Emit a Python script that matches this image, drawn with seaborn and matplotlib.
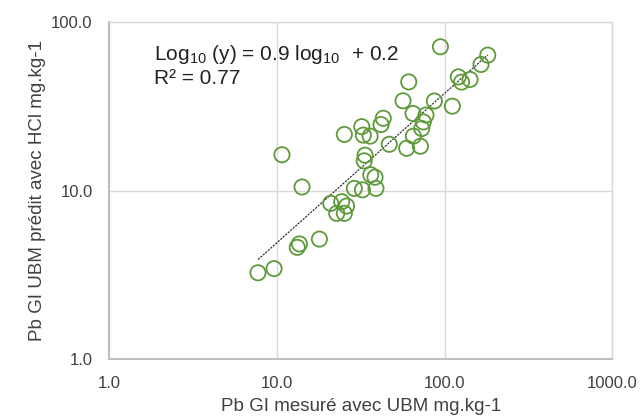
import numpy as np
import pandas as pd
import matplotlib
matplotlib.use("Agg")
import matplotlib.pyplot as plt
import seaborn as sns

# Pb GI measured with UBM (mg/kg) vs Pb GI predicted with HCl (mg/kg)
pb_ubm_mesure = [7.7, 9.6, 10.7, 14.1, 13.2, 13.6, 17.9, 20.9, 24.3, 26.0,
                 22.7, 25.2, 28.9, 32.3, 36.2, 38.4, 38.9, 33.5, 33.1, 25.2,
                 32.0, 32.7, 35.9, 43.0, 41.7, 46.7, 59.3, 71.6, 65.0, 74.5,
                 72.9, 77.3, 64.7, 56.4, 61.0, 86.7, 111.0, 120.5, 126.0, 141.5,
                 164.5, 180.5, 94.2]
pb_hcl_predit = [3.26, 3.45, 16.3, 10.5, 4.61, 4.83, 5.16, 8.40, 8.59, 8.10,
                 7.33, 7.33, 10.3, 10.1, 12.4, 12.0, 10.3, 16.2, 15.0, 21.5,
                 23.9, 21.3, 21.0, 26.8, 24.6, 18.8, 17.8, 18.3, 21.0, 25.5,
                 23.3, 28.0, 28.6, 34.0, 44.0, 33.9, 31.6, 47.1, 43.9, 45.5,
                 55.8, 63.4, 71.0]

x_ticks = [1, 10, 100, 1000]
y_ticks = [1, 10, 100]
x_tick_labels = ["1.0", "10.0", "100.0", "1000.0"]
y_tick_labels = ["1.0", "10.0", "100.0"]

equation_text = r"Log$_{10}$ (y) = 0.9 log$_{10}$  + 0.2"
r2_text = "R² = 0.77"
x_label = "Pb GI mesuré avec UBM mg.kg-1"
y_label = "Pb GI UBM prédit avec HCl mg.kg-1"

df = pd.DataFrame({"ubm": pb_ubm_mesure, "hcl": pb_hcl_predit})

sns.set_theme(style="white")
plt.rcParams["font.family"] = ["Liberation Sans", "DejaVu Sans"]
plt.rcParams["mathtext.fontset"] = "custom"
plt.rcParams["mathtext.rm"] = "Liberation Sans"
plt.rcParams["mathtext.it"] = "Liberation Sans"
plt.rcParams["mathtext.default"] = "rm"

text_color = "#404040"
green = "#5E9A3A"

fig = plt.figure(figsize=(6.41, 4.17), dpi=100)
ax = fig.add_axes([0.1705, 0.138, 0.785, 0.810])

ax.set_xscale("log")
ax.set_yscale("log")

sns.scatterplot(data=df, x="ubm", y="hcl", ax=ax, marker="o", s=120,
                facecolor="none", edgecolor=green, linewidth=1.3, zorder=3)

# power-law trend line fitted in log-log space
lx = np.log10(df["ubm"].to_numpy())
ly = np.log10(df["hcl"].to_numpy())
slope, intercept = np.polyfit(lx, ly, 1)
xs = np.array([df["ubm"].min(), df["ubm"].max()])
ax.plot(xs, 10 ** (intercept + slope * np.log10(xs)), color="#222222",
        linewidth=0.8, linestyle=(0, (2, 1)), zorder=2)

ax.set_xlim(1, 1000)
ax.set_ylim(1, 100)
ax.set_xticks(x_ticks)
ax.set_xticklabels(x_tick_labels)
ax.set_yticks(y_ticks)
ax.set_yticklabels(y_tick_labels)
ax.minorticks_off()
ax.tick_params(axis="both", length=0, pad=12, labelsize=12, labelcolor=text_color)

ax.grid(True, which="major", color="#D9D9D9", linewidth=1.0)
ax.set_axisbelow(True)
for side in ["top", "right"]:
    ax.spines[side].set_color("#D9D9D9")
    ax.spines[side].set_linewidth(1.0)
for side in ["left", "bottom"]:
    ax.spines[side].set_color("#BFBFBF")
    ax.spines[side].set_linewidth(1.5)

ax.set_xlabel(x_label, fontsize=13.5, color=text_color, labelpad=5)
ax.set_ylabel(y_label, fontsize=13.5, color=text_color, labelpad=4)

ax.text(0.089, 0.886, equation_text, transform=ax.transAxes, fontsize=15,
        color="#222222", va="baseline", ha="left")
ax.text(0.089, 0.815, r2_text, transform=ax.transAxes, fontsize=15,
        color="#222222", va="baseline", ha="left")

fig.savefig("out.png", dpi=100)
